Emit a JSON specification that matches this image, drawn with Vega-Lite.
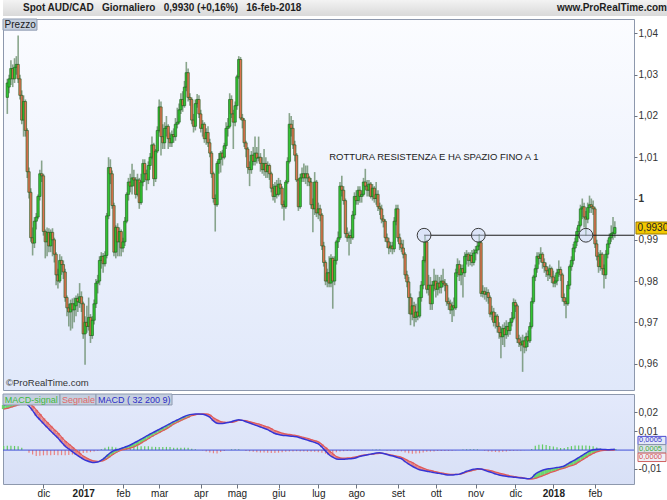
{
"$schema":"https://vega.github.io/schema/vega-lite/v6.json",
"padding":0,
"background":"#ffffff",
"spacing":2,
"config":{"font":"Liberation Sans","view":{"stroke":null}},
"datasets":{
"candles":[
{"i":0,"o":1.0245,"h":1.029,"l":1.0205,"c":1.028},
{"i":1,"o":1.027,"h":1.03,"l":1.0255,"c":1.029},
{"i":2,"o":1.029,"h":1.0335,"l":1.0275,"c":1.0315},
{"i":3,"o":1.0315,"h":1.0325,"l":1.027,"c":1.029},
{"i":4,"o":1.029,"h":1.034,"l":1.028,"c":1.0318},
{"i":5,"o":1.0318,"h":1.0345,"l":1.03,"c":1.0325},
{"i":6,"o":1.0325,"h":1.0395,"l":1.028,"c":1.029},
{"i":7,"o":1.029,"h":1.03,"l":1.024,"c":1.025},
{"i":8,"o":1.025,"h":1.0262,"l":1.018,"c":1.019},
{"i":9,"o":1.019,"h":1.025,"l":1.015,"c":1.0235},
{"i":10,"o":1.0235,"h":1.024,"l":1.015,"c":1.0165},
{"i":11,"o":1.0165,"h":1.017,"l":1.005,"c":1.0065},
{"i":12,"o":1.0065,"h":1.0075,"l":1.0,"c":1.0015},
{"i":13,"o":1.0015,"h":1.0025,"l":0.9895,"c":0.9905},
{"i":14,"o":0.9905,"h":0.993,"l":0.9862,"c":0.9892},
{"i":15,"o":0.9892,"h":0.9955,"l":0.988,"c":0.9945},
{"i":16,"o":0.9945,"h":0.9965,"l":0.9925,"c":0.9955},
{"i":17,"o":0.9955,"h":1.001,"l":0.995,"c":1.0005},
{"i":18,"o":1.0005,"h":1.007,"l":0.9995,"c":1.006},
{"i":19,"o":1.006,"h":1.0092,"l":1.004,"c":1.0055},
{"i":20,"o":1.0055,"h":1.006,"l":0.991,"c":0.992},
{"i":21,"o":0.992,"h":0.9925,"l":0.9855,"c":0.9895},
{"i":22,"o":0.9895,"h":0.993,"l":0.986,"c":0.9918},
{"i":23,"o":0.9918,"h":0.9928,"l":0.987,"c":0.9885},
{"i":24,"o":0.9885,"h":0.9925,"l":0.987,"c":0.9918},
{"i":25,"o":0.9918,"h":0.9928,"l":0.986,"c":0.99},
{"i":26,"o":0.99,"h":0.9905,"l":0.9845,"c":0.9865},
{"i":27,"o":0.9865,"h":0.987,"l":0.979,"c":0.9815},
{"i":28,"o":0.9815,"h":0.983,"l":0.9782,"c":0.98},
{"i":29,"o":0.98,"h":0.9865,"l":0.9795,"c":0.985},
{"i":30,"o":0.985,"h":0.986,"l":0.9815,"c":0.984},
{"i":31,"o":0.984,"h":0.985,"l":0.9805,"c":0.9822},
{"i":32,"o":0.9822,"h":0.983,"l":0.975,"c":0.976},
{"i":33,"o":0.976,"h":0.9765,"l":0.9715,"c":0.9735},
{"i":34,"o":0.9735,"h":0.9745,"l":0.969,"c":0.9725},
{"i":35,"o":0.9725,"h":0.9755,"l":0.968,"c":0.9745},
{"i":36,"o":0.9745,"h":0.9758,"l":0.9685,"c":0.973},
{"i":37,"o":0.973,"h":0.976,"l":0.97,"c":0.9745},
{"i":38,"o":0.974,"h":0.9765,"l":0.9715,"c":0.9758},
{"i":39,"o":0.9758,"h":0.977,"l":0.9725,"c":0.975},
{"i":40,"o":0.9748,"h":0.9795,"l":0.9735,"c":0.9762},
{"i":41,"o":0.9762,"h":0.9775,"l":0.9725,"c":0.9745},
{"i":42,"o":0.9745,"h":0.975,"l":0.966,"c":0.9672},
{"i":43,"o":0.9672,"h":0.9715,"l":0.9597,"c":0.97},
{"i":44,"o":0.97,"h":0.974,"l":0.9675,"c":0.969},
{"i":45,"o":0.969,"h":0.976,"l":0.968,"c":0.9712},
{"i":46,"o":0.9712,"h":0.972,"l":0.965,"c":0.9668},
{"i":47,"o":0.9668,"h":0.9715,"l":0.966,"c":0.9705},
{"i":48,"o":0.9705,"h":0.9755,"l":0.9695,"c":0.9745},
{"i":49,"o":0.9745,"h":0.9805,"l":0.9735,"c":0.9795},
{"i":50,"o":0.9795,"h":0.9815,"l":0.977,"c":0.98},
{"i":51,"o":0.98,"h":0.986,"l":0.979,"c":0.985},
{"i":52,"o":0.985,"h":0.987,"l":0.983,"c":0.986},
{"i":53,"o":0.986,"h":0.9868,"l":0.982,"c":0.9842},
{"i":54,"o":0.9842,"h":0.9872,"l":0.9835,"c":0.9862},
{"i":55,"o":0.9862,"h":0.9965,"l":0.9855,"c":0.9958},
{"i":56,"o":0.9958,"h":1.01,"l":0.995,"c":1.0075},
{"i":57,"o":1.0075,"h":1.0095,"l":1.0035,"c":1.006},
{"i":58,"o":1.006,"h":1.0068,"l":0.9975,"c":0.9983},
{"i":59,"o":0.9983,"h":0.999,"l":0.986,"c":0.987},
{"i":60,"o":0.987,"h":0.9935,"l":0.9855,"c":0.993},
{"i":61,"o":0.993,"h":0.994,"l":0.986,"c":0.9895},
{"i":62,"o":0.9895,"h":0.993,"l":0.986,"c":0.992},
{"i":63,"o":0.992,"h":0.9925,"l":0.986,"c":0.988},
{"i":64,"o":0.988,"h":0.9905,"l":0.987,"c":0.9895},
{"i":65,"o":0.9895,"h":0.9955,"l":0.9885,"c":0.9945},
{"i":66,"o":0.9945,"h":1.0015,"l":0.994,"c":1.001},
{"i":67,"o":1.001,"h":1.005,"l":0.9995,"c":1.004},
{"i":68,"o":1.004,"h":1.006,"l":1.0015,"c":1.003},
{"i":69,"o":1.003,"h":1.0084,"l":1.001,"c":1.005},
{"i":70,"o":1.005,"h":1.007,"l":1.003,"c":1.0045},
{"i":71,"o":1.0045,"h":1.0052,"l":1.0,"c":1.001},
{"i":72,"o":1.001,"h":1.006,"l":1.0005,"c":1.0045},
{"i":73,"o":1.0045,"h":1.005,"l":0.9975,"c":0.999},
{"i":74,"o":0.999,"h":1.006,"l":0.9985,"c":1.004},
{"i":75,"o":1.004,"h":1.0095,"l":1.003,"c":1.0085},
{"i":76,"o":1.0085,"h":1.0095,"l":1.004,"c":1.006},
{"i":77,"o":1.006,"h":1.007,"l":1.002,"c":1.0045},
{"i":78,"o":1.0045,"h":1.009,"l":1.0035,"c":1.008},
{"i":79,"o":1.008,"h":1.011,"l":1.007,"c":1.01},
{"i":80,"o":1.01,"h":1.015,"l":1.0095,"c":1.013},
{"i":81,"o":1.013,"h":1.0135,"l":1.003,"c":1.0048},
{"i":82,"o":1.0048,"h":1.012,"l":1.004,"c":1.0115},
{"i":83,"o":1.0115,"h":1.0175,"l":1.011,"c":1.0165},
{"i":84,"o":1.0165,"h":1.024,"l":1.016,"c":1.0222},
{"i":85,"o":1.0222,"h":1.0235,"l":1.0104,"c":1.015},
{"i":86,"o":1.015,"h":1.018,"l":1.012,"c":1.0135},
{"i":87,"o":1.0135,"h":1.0185,"l":1.012,"c":1.017},
{"i":88,"o":1.017,"h":1.02,"l":1.015,"c":1.0175},
{"i":89,"o":1.0175,"h":1.018,"l":1.012,"c":1.0145},
{"i":90,"o":1.0145,"h":1.016,"l":1.0125,"c":1.0135},
{"i":91,"o":1.0135,"h":1.0165,"l":1.0125,"c":1.0155},
{"i":92,"o":1.0155,"h":1.017,"l":1.0135,"c":1.015},
{"i":93,"o":1.015,"h":1.0195,"l":1.014,"c":1.018},
{"i":94,"o":1.018,"h":1.022,"l":1.017,"c":1.0185},
{"i":95,"o":1.0185,"h":1.023,"l":1.018,"c":1.0215},
{"i":96,"o":1.0215,"h":1.0255,"l":1.0205,"c":1.024},
{"i":97,"o":1.024,"h":1.026,"l":1.021,"c":1.0225},
{"i":98,"o":1.0225,"h":1.0285,"l":1.022,"c":1.027},
{"i":99,"o":1.027,"h":1.0331,"l":1.026,"c":1.0305},
{"i":100,"o":1.0305,"h":1.0315,"l":1.0235,"c":1.0245},
{"i":101,"o":1.0245,"h":1.0255,"l":1.0225,"c":1.024},
{"i":102,"o":1.024,"h":1.0245,"l":1.018,"c":1.019},
{"i":103,"o":1.019,"h":1.0205,"l":1.016,"c":1.0175},
{"i":104,"o":1.0175,"h":1.024,"l":1.0165,"c":1.023},
{"i":105,"o":1.023,"h":1.0253,"l":1.022,"c":1.024},
{"i":106,"o":1.024,"h":1.025,"l":1.0195,"c":1.0205},
{"i":107,"o":1.0205,"h":1.0215,"l":1.016,"c":1.017},
{"i":108,"o":1.017,"h":1.019,"l":1.015,"c":1.018},
{"i":109,"o":1.018,"h":1.0185,"l":1.0135,"c":1.0145},
{"i":110,"o":1.0145,"h":1.017,"l":1.013,"c":1.016},
{"i":111,"o":1.016,"h":1.0175,"l":1.0125,"c":1.0135},
{"i":112,"o":1.0135,"h":1.0145,"l":1.01,"c":1.011},
{"i":113,"o":1.011,"h":1.0115,"l":1.005,"c":1.006},
{"i":114,"o":1.006,"h":1.0065,"l":0.999,"c":1.0},
{"i":115,"o":1.0,"h":1.001,"l":0.992,"c":0.9985},
{"i":116,"o":0.9985,"h":1.009,"l":0.998,"c":1.0085},
{"i":117,"o":1.0085,"h":1.011,"l":1.006,"c":1.0095},
{"i":118,"o":1.0095,"h":1.0115,"l":1.0063,"c":1.011},
{"i":119,"o":1.011,"h":1.0118,"l":1.008,"c":1.01},
{"i":120,"o":1.01,"h":1.0135,"l":1.0095,"c":1.0128},
{"i":121,"o":1.0128,"h":1.0185,"l":1.012,"c":1.017},
{"i":122,"o":1.017,"h":1.0195,"l":1.015,"c":1.0175},
{"i":123,"o":1.0175,"h":1.0255,"l":1.017,"c":1.024},
{"i":124,"o":1.024,"h":1.025,"l":1.0195,"c":1.0205},
{"i":125,"o":1.0205,"h":1.0215,"l":1.012,"c":1.0185},
{"i":126,"o":1.0185,"h":1.0235,"l":1.0175,"c":1.0225},
{"i":127,"o":1.0225,"h":1.03,"l":1.0215,"c":1.0295},
{"i":128,"o":1.0295,"h":1.0345,"l":1.029,"c":1.0337},
{"i":129,"o":1.0337,"h":1.0343,"l":1.019,"c":1.0195},
{"i":130,"o":1.0195,"h":1.0205,"l":1.017,"c":1.019},
{"i":131,"o":1.019,"h":1.0195,"l":1.0125,"c":1.0135},
{"i":132,"o":1.0135,"h":1.014,"l":1.01,"c":1.012},
{"i":133,"o":1.012,"h":1.0125,"l":1.006,"c":1.0075},
{"i":134,"o":1.0075,"h":1.009,"l":1.003,"c":1.007},
{"i":135,"o":1.007,"h":1.0115,"l":1.006,"c":1.0105},
{"i":136,"o":1.0105,"h":1.0125,"l":1.008,"c":1.009},
{"i":137,"o":1.009,"h":1.015,"l":1.008,"c":1.011},
{"i":138,"o":1.011,"h":1.0125,"l":1.0085,"c":1.0098},
{"i":139,"o":1.0098,"h":1.015,"l":1.009,"c":1.01},
{"i":140,"o":1.01,"h":1.011,"l":1.0065,"c":1.0085},
{"i":141,"o":1.0085,"h":1.01,"l":1.006,"c":1.007},
{"i":142,"o":1.007,"h":1.012,"l":1.0055,"c":1.0085},
{"i":143,"o":1.0085,"h":1.01,"l":1.005,"c":1.0065},
{"i":144,"o":1.0065,"h":1.009,"l":1.005,"c":1.008},
{"i":145,"o":1.008,"h":1.0085,"l":1.0045,"c":1.006},
{"i":146,"o":1.006,"h":1.0065,"l":1.0015,"c":1.0025},
{"i":147,"o":1.0025,"h":1.0035,"l":0.9995,"c":1.0005},
{"i":148,"o":1.0005,"h":1.004,"l":0.999,"c":1.003},
{"i":149,"o":1.003,"h":1.0045,"l":1.0,"c":1.001},
{"i":150,"o":1.001,"h":1.005,"l":1.0005,"c":1.0035},
{"i":151,"o":1.0035,"h":1.0045,"l":1.001,"c":1.0025},
{"i":152,"o":1.0025,"h":1.003,"l":0.9975,"c":0.9985},
{"i":153,"o":0.9985,"h":0.9995,"l":0.9947,"c":0.998},
{"i":154,"o":0.998,"h":1.0045,"l":0.9975,"c":1.004},
{"i":155,"o":1.004,"h":1.01,"l":1.0035,"c":1.009},
{"i":156,"o":1.009,"h":1.0207,"l":1.0085,"c":1.018},
{"i":157,"o":1.018,"h":1.02,"l":1.015,"c":1.017},
{"i":158,"o":1.017,"h":1.019,"l":1.012,"c":1.013},
{"i":159,"o":1.013,"h":1.014,"l":1.009,"c":1.0105},
{"i":160,"o":1.0105,"h":1.011,"l":1.004,"c":1.0045},
{"i":161,"o":1.0045,"h":1.005,"l":0.997,"c":0.998},
{"i":162,"o":0.998,"h":1.006,"l":0.9975,"c":1.005},
{"i":163,"o":1.005,"h":1.0075,"l":1.004,"c":1.006},
{"i":164,"o":1.006,"h":1.0085,"l":1.004,"c":1.005},
{"i":165,"o":1.005,"h":1.008,"l":1.0035,"c":1.006},
{"i":166,"o":1.006,"h":1.008,"l":1.003,"c":1.005},
{"i":167,"o":1.005,"h":1.0055,"l":1.003,"c":1.004},
{"i":168,"o":1.004,"h":1.005,"l":0.9975,"c":0.9985},
{"i":169,"o":0.9985,"h":1.0,"l":0.9918,"c":0.9975},
{"i":170,"o":0.9975,"h":1.0064,"l":0.996,"c":1.004},
{"i":171,"o":1.004,"h":1.0045,"l":0.9955,"c":0.9965},
{"i":172,"o":0.9965,"h":0.999,"l":0.995,"c":0.9975},
{"i":173,"o":0.9975,"h":0.9985,"l":0.9945,"c":0.996},
{"i":174,"o":0.996,"h":0.9965,"l":0.9875,"c":0.9885},
{"i":175,"o":0.9885,"h":0.9895,"l":0.9835,"c":0.9845},
{"i":176,"o":0.9845,"h":0.985,"l":0.979,"c":0.98},
{"i":177,"o":0.98,"h":0.983,"l":0.9785,"c":0.982},
{"i":178,"o":0.982,"h":0.986,"l":0.9785,"c":0.9795},
{"i":179,"o":0.9795,"h":0.9865,"l":0.9785,"c":0.9855},
{"i":180,"o":0.9855,"h":0.986,"l":0.9733,"c":0.98},
{"i":181,"o":0.98,"h":0.986,"l":0.979,"c":0.985},
{"i":182,"o":0.985,"h":0.99,"l":0.984,"c":0.9895},
{"i":183,"o":0.9895,"h":0.992,"l":0.988,"c":0.9905},
{"i":184,"o":0.9905,"h":1.004,"l":0.99,"c":1.003},
{"i":185,"o":1.003,"h":1.0055,"l":1.0005,"c":1.002},
{"i":186,"o":1.002,"h":1.003,"l":0.9985,"c":0.9995},
{"i":187,"o":0.9995,"h":1.0,"l":0.9905,"c":0.9915},
{"i":188,"o":0.9915,"h":0.993,"l":0.9895,"c":0.9905},
{"i":189,"o":0.9905,"h":0.992,"l":0.9862,"c":0.991},
{"i":190,"o":0.991,"h":0.9925,"l":0.989,"c":0.9905},
{"i":191,"o":0.9905,"h":0.997,"l":0.99,"c":0.996},
{"i":192,"o":0.996,"h":1.0015,"l":0.995,"c":1.0005},
{"i":193,"o":1.0005,"h":1.002,"l":0.9985,"c":0.9995},
{"i":194,"o":0.9995,"h":1.003,"l":0.9985,"c":1.002},
{"i":195,"o":1.002,"h":1.003,"l":0.999,"c":1.0005},
{"i":196,"o":1.0005,"h":1.002,"l":0.999,"c":1.001},
{"i":197,"o":1.001,"h":1.005,"l":1.0005,"c":1.004},
{"i":198,"o":1.004,"h":1.0072,"l":1.002,"c":1.003},
{"i":199,"o":1.003,"h":1.0045,"l":1.0005,"c":1.002},
{"i":200,"o":1.002,"h":1.0045,"l":1.0005,"c":1.0035},
{"i":201,"o":1.0035,"h":1.004,"l":1.0,"c":1.0005},
{"i":202,"o":1.0005,"h":1.0035,"l":0.9995,"c":1.0025},
{"i":203,"o":1.0025,"h":1.003,"l":0.999,"c":1.0},
{"i":204,"o":1.0,"h":1.004,"l":0.9985,"c":1.001},
{"i":205,"o":1.001,"h":1.002,"l":0.997,"c":0.998},
{"i":206,"o":0.998,"h":0.999,"l":0.996,"c":0.9975},
{"i":207,"o":0.9975,"h":0.9985,"l":0.994,"c":0.995},
{"i":208,"o":0.995,"h":0.996,"l":0.993,"c":0.9945},
{"i":209,"o":0.9945,"h":0.995,"l":0.9895,"c":0.9905},
{"i":210,"o":0.9905,"h":0.9915,"l":0.988,"c":0.9895},
{"i":211,"o":0.9895,"h":0.9905,"l":0.9865,"c":0.988},
{"i":212,"o":0.988,"h":0.9895,"l":0.987,"c":0.9885},
{"i":213,"o":0.9885,"h":0.9895,"l":0.9865,"c":0.9878},
{"i":214,"o":0.9878,"h":0.9955,"l":0.987,"c":0.9945},
{"i":215,"o":0.9945,"h":0.9985,"l":0.9935,"c":0.9975},
{"i":216,"o":0.9975,"h":0.9985,"l":0.9895,"c":0.9905},
{"i":217,"o":0.9905,"h":0.9915,"l":0.9875,"c":0.989},
{"i":218,"o":0.989,"h":0.99,"l":0.987,"c":0.988},
{"i":219,"o":0.988,"h":0.99,"l":0.9855,"c":0.9865},
{"i":220,"o":0.9865,"h":0.987,"l":0.9805,"c":0.9815},
{"i":221,"o":0.9815,"h":0.9825,"l":0.9785,"c":0.9798},
{"i":222,"o":0.9798,"h":0.981,"l":0.972,"c":0.976},
{"i":223,"o":0.976,"h":0.977,"l":0.9693,"c":0.972},
{"i":224,"o":0.972,"h":0.976,"l":0.9705,"c":0.974},
{"i":225,"o":0.974,"h":0.975,"l":0.969,"c":0.9712},
{"i":226,"o":0.9712,"h":0.9745,"l":0.97,"c":0.9725},
{"i":227,"o":0.9725,"h":0.976,"l":0.9705,"c":0.9715},
{"i":228,"o":0.9715,"h":0.9775,"l":0.971,"c":0.976},
{"i":229,"o":0.976,"h":0.98,"l":0.975,"c":0.979},
{"i":230,"o":0.979,"h":0.986,"l":0.978,"c":0.985},
{"i":231,"o":0.985,"h":0.991,"l":0.9845,"c":0.9895},
{"i":232,"o":0.9895,"h":0.99,"l":0.977,"c":0.978},
{"i":233,"o":0.978,"h":0.9815,"l":0.9765,"c":0.979},
{"i":234,"o":0.979,"h":0.981,"l":0.973,"c":0.9745},
{"i":235,"o":0.9745,"h":0.98,"l":0.973,"c":0.979},
{"i":236,"o":0.979,"h":0.983,"l":0.9775,"c":0.98},
{"i":237,"o":0.98,"h":0.9815,"l":0.976,"c":0.978},
{"i":238,"o":0.978,"h":0.9815,"l":0.9765,"c":0.9795},
{"i":239,"o":0.9795,"h":0.981,"l":0.977,"c":0.9785},
{"i":240,"o":0.9785,"h":0.9815,"l":0.977,"c":0.98},
{"i":241,"o":0.98,"h":0.983,"l":0.9785,"c":0.9795},
{"i":242,"o":0.9795,"h":0.9805,"l":0.9775,"c":0.979},
{"i":243,"o":0.979,"h":0.9795,"l":0.974,"c":0.975},
{"i":244,"o":0.975,"h":0.976,"l":0.973,"c":0.9745},
{"i":245,"o":0.9745,"h":0.9755,"l":0.972,"c":0.973},
{"i":246,"o":0.973,"h":0.975,"l":0.9701,"c":0.974},
{"i":247,"o":0.974,"h":0.976,"l":0.9715,"c":0.9735},
{"i":248,"o":0.9735,"h":0.983,"l":0.973,"c":0.982},
{"i":249,"o":0.982,"h":0.9855,"l":0.981,"c":0.984},
{"i":250,"o":0.984,"h":0.985,"l":0.98,"c":0.9815},
{"i":251,"o":0.9815,"h":0.984,"l":0.979,"c":0.983},
{"i":252,"o":0.983,"h":0.984,"l":0.976,"c":0.982},
{"i":253,"o":0.982,"h":0.987,"l":0.981,"c":0.986},
{"i":254,"o":0.986,"h":0.9875,"l":0.984,"c":0.9865},
{"i":255,"o":0.9865,"h":0.987,"l":0.9835,"c":0.985},
{"i":256,"o":0.985,"h":0.987,"l":0.9838,"c":0.9862},
{"i":257,"o":0.9862,"h":0.9875,"l":0.9835,"c":0.9845},
{"i":258,"o":0.9845,"h":0.9878,"l":0.9838,"c":0.9868},
{"i":259,"o":0.9868,"h":0.9885,"l":0.985,"c":0.9875},
{"i":260,"o":0.9875,"h":0.9895,"l":0.9865,"c":0.9885},
{"i":261,"o":0.9885,"h":0.9914,"l":0.9875,"c":0.9895},
{"i":262,"o":0.9893,"h":0.9898,"l":0.9762,"c":0.977},
{"i":263,"o":0.977,"h":0.979,"l":0.976,"c":0.9775},
{"i":264,"o":0.9775,"h":0.9785,"l":0.9755,"c":0.9768},
{"i":265,"o":0.9768,"h":0.9785,"l":0.975,"c":0.9772},
{"i":266,"o":0.9772,"h":0.978,"l":0.9745,"c":0.976},
{"i":267,"o":0.976,"h":0.9765,"l":0.9712,"c":0.972},
{"i":268,"o":0.972,"h":0.974,"l":0.9705,"c":0.9725},
{"i":269,"o":0.9725,"h":0.9735,"l":0.969,"c":0.97},
{"i":270,"o":0.97,"h":0.9725,"l":0.9685,"c":0.9715},
{"i":271,"o":0.9715,"h":0.972,"l":0.9675,"c":0.969},
{"i":272,"o":0.969,"h":0.97,"l":0.966,"c":0.9675},
{"i":273,"o":0.9675,"h":0.969,"l":0.9613,"c":0.9665},
{"i":274,"o":0.9665,"h":0.9695,"l":0.9645,"c":0.9685},
{"i":275,"o":0.9685,"h":0.97,"l":0.964,"c":0.967},
{"i":276,"o":0.967,"h":0.9705,"l":0.966,"c":0.969},
{"i":277,"o":0.969,"h":0.97,"l":0.9665,"c":0.968},
{"i":278,"o":0.968,"h":0.971,"l":0.967,"c":0.97},
{"i":279,"o":0.97,"h":0.9725,"l":0.969,"c":0.971},
{"i":280,"o":0.971,"h":0.9758,"l":0.9705,"c":0.9748},
{"i":281,"o":0.9748,"h":0.9755,"l":0.9725,"c":0.974},
{"i":282,"o":0.974,"h":0.9745,"l":0.965,"c":0.966},
{"i":283,"o":0.966,"h":0.967,"l":0.964,"c":0.965},
{"i":284,"o":0.965,"h":0.9665,"l":0.963,"c":0.9645},
{"i":285,"o":0.9645,"h":0.967,"l":0.958,"c":0.9655},
{"i":286,"o":0.9655,"h":0.9665,"l":0.9625,"c":0.964},
{"i":287,"o":0.964,"h":0.9675,"l":0.963,"c":0.9665},
{"i":288,"o":0.9665,"h":0.968,"l":0.964,"c":0.9655},
{"i":289,"o":0.9655,"h":0.97,"l":0.965,"c":0.969},
{"i":290,"o":0.969,"h":0.976,"l":0.9685,"c":0.975},
{"i":291,"o":0.975,"h":0.9815,"l":0.9745,"c":0.981},
{"i":292,"o":0.981,"h":0.984,"l":0.98,"c":0.983},
{"i":293,"o":0.983,"h":0.987,"l":0.982,"c":0.986},
{"i":294,"o":0.986,"h":0.987,"l":0.984,"c":0.9855},
{"i":295,"o":0.9855,"h":0.9882,"l":0.9845,"c":0.9865},
{"i":296,"o":0.9865,"h":0.987,"l":0.983,"c":0.9845},
{"i":297,"o":0.9845,"h":0.9855,"l":0.982,"c":0.9835},
{"i":298,"o":0.9835,"h":0.9845,"l":0.981,"c":0.9825},
{"i":299,"o":0.9825,"h":0.9835,"l":0.98,"c":0.9815},
{"i":300,"o":0.9815,"h":0.984,"l":0.9805,"c":0.983},
{"i":301,"o":0.983,"h":0.9835,"l":0.9795,"c":0.981},
{"i":302,"o":0.981,"h":0.9825,"l":0.9785,"c":0.9795},
{"i":303,"o":0.9795,"h":0.9815,"l":0.9785,"c":0.98},
{"i":304,"o":0.98,"h":0.983,"l":0.979,"c":0.982},
{"i":305,"o":0.982,"h":0.985,"l":0.981,"c":0.9828},
{"i":306,"o":0.9828,"h":0.9835,"l":0.98,"c":0.9815},
{"i":307,"o":0.9815,"h":0.982,"l":0.975,"c":0.976},
{"i":308,"o":0.976,"h":0.977,"l":0.974,"c":0.975},
{"i":309,"o":0.975,"h":0.976,"l":0.971,"c":0.9745},
{"i":310,"o":0.9745,"h":0.98,"l":0.974,"c":0.979},
{"i":311,"o":0.979,"h":0.984,"l":0.978,"c":0.9835},
{"i":312,"o":0.9835,"h":0.986,"l":0.9825,"c":0.985},
{"i":313,"o":0.985,"h":0.989,"l":0.984,"c":0.988},
{"i":314,"o":0.988,"h":0.9905,"l":0.987,"c":0.9895},
{"i":315,"o":0.9895,"h":0.993,"l":0.9885,"c":0.992},
{"i":316,"o":0.992,"h":0.9945,"l":0.9905,"c":0.9935},
{"i":317,"o":0.9935,"h":0.9985,"l":0.993,"c":0.9975},
{"i":318,"o":0.9975,"h":1.0,"l":0.995,"c":0.998},
{"i":319,"o":0.998,"h":0.999,"l":0.993,"c":0.9955},
{"i":320,"o":0.9955,"h":0.997,"l":0.991,"c":0.995},
{"i":321,"o":0.995,"h":0.999,"l":0.994,"c":0.9978},
{"i":322,"o":0.9978,"h":1.0007,"l":0.9965,"c":0.9985},
{"i":323,"o":0.9985,"h":1.0,"l":0.9965,"c":0.998},
{"i":324,"o":0.998,"h":0.9995,"l":0.996,"c":0.9975},
{"i":325,"o":0.9975,"h":0.998,"l":0.988,"c":0.989},
{"i":326,"o":0.989,"h":0.99,"l":0.985,"c":0.986},
{"i":327,"o":0.986,"h":0.987,"l":0.982,"c":0.9835},
{"i":328,"o":0.9835,"h":0.9875,"l":0.9825,"c":0.9865},
{"i":329,"o":0.9865,"h":0.987,"l":0.9815,"c":0.983},
{"i":330,"o":0.983,"h":0.984,"l":0.9782,"c":0.9815},
{"i":331,"o":0.9815,"h":0.9875,"l":0.9805,"c":0.9865},
{"i":332,"o":0.9865,"h":0.99,"l":0.9855,"c":0.989},
{"i":333,"o":0.989,"h":0.9915,"l":0.988,"c":0.9905},
{"i":334,"o":0.9905,"h":0.9935,"l":0.9895,"c":0.9915},
{"i":335,"o":0.9915,"h":0.9955,"l":0.99,"c":0.9918},
{"i":336,"o":0.9915,"h":0.9945,"l":0.9905,"c":0.993}
],
"macd":[
{"i":-2,"m":0.024,"s":0.0218,"d":0.0022},
{"i":0,"m":0.0245,"s":0.0222,"d":0.0023},
{"i":2,"m":0.0251,"s":0.0228,"d":0.0023},
{"i":4,"m":0.0256,"s":0.0234,"d":0.0022},
{"i":6,"m":0.026,"s":0.024,"d":0.002},
{"i":8,"m":0.0258,"s":0.0246,"d":0.0012},
{"i":10,"m":0.025,"s":0.025,"d":0.0},
{"i":12,"m":0.0235,"s":0.0249,"d":-0.0014},
{"i":14,"m":0.021,"s":0.0234,"d":-0.0024},
{"i":16,"m":0.0183,"s":0.0214,"d":-0.0031},
{"i":18,"m":0.0162,"s":0.0192,"d":-0.003},
{"i":20,"m":0.0141,"s":0.0169,"d":-0.0028},
{"i":22,"m":0.0121,"s":0.0148,"d":-0.0027},
{"i":24,"m":0.0102,"s":0.0129,"d":-0.0027},
{"i":26,"m":0.0083,"s":0.0109,"d":-0.0026},
{"i":28,"m":0.0064,"s":0.0091,"d":-0.0027},
{"i":30,"m":0.0042,"s":0.0069,"d":-0.0027},
{"i":32,"m":0.0021,"s":0.0048,"d":-0.0027},
{"i":34,"m":0.0006,"s":0.0032,"d":-0.0026},
{"i":36,"m":-0.0008,"s":0.0016,"d":-0.0024},
{"i":38,"m":-0.0023,"s":0.0,"d":-0.0023},
{"i":40,"m":-0.0036,"s":-0.0016,"d":-0.002},
{"i":42,"m":-0.0048,"s":-0.0032,"d":-0.0016},
{"i":44,"m":-0.0057,"s":-0.0043,"d":-0.0014},
{"i":46,"m":-0.0063,"s":-0.0052,"d":-0.0011},
{"i":48,"m":-0.0066,"s":-0.0058,"d":-0.0008},
{"i":50,"m":-0.0064,"s":-0.006,"d":-0.0004},
{"i":52,"m":-0.0054,"s":-0.0059,"d":0.0005},
{"i":54,"m":-0.004,"s":-0.0052,"d":0.0012},
{"i":56,"m":-0.0022,"s":-0.004,"d":0.0018},
{"i":58,"m":-0.0008,"s":-0.0026,"d":0.0018},
{"i":60,"m":0.0,"s":-0.0014,"d":0.0014},
{"i":62,"m":0.0005,"s":-0.0005,"d":0.001},
{"i":64,"m":0.0012,"s":0.0002,"d":0.001},
{"i":66,"m":0.0019,"s":0.0006,"d":0.0013},
{"i":68,"m":0.0027,"s":0.0011,"d":0.0016},
{"i":70,"m":0.0037,"s":0.0017,"d":0.002},
{"i":72,"m":0.0047,"s":0.0026,"d":0.0021},
{"i":74,"m":0.0058,"s":0.0037,"d":0.0021},
{"i":76,"m":0.0069,"s":0.0048,"d":0.0021},
{"i":78,"m":0.008,"s":0.006,"d":0.002},
{"i":80,"m":0.009,"s":0.0072,"d":0.0018},
{"i":82,"m":0.01,"s":0.0083,"d":0.0017},
{"i":84,"m":0.011,"s":0.0093,"d":0.0017},
{"i":86,"m":0.012,"s":0.0103,"d":0.0017},
{"i":88,"m":0.013,"s":0.0113,"d":0.0017},
{"i":90,"m":0.0141,"s":0.0125,"d":0.0016},
{"i":92,"m":0.0151,"s":0.0138,"d":0.0013},
{"i":94,"m":0.016,"s":0.0148,"d":0.0012},
{"i":96,"m":0.017,"s":0.0157,"d":0.0013},
{"i":98,"m":0.0179,"s":0.0166,"d":0.0013},
{"i":100,"m":0.0186,"s":0.0174,"d":0.0012},
{"i":102,"m":0.019,"s":0.0183,"d":0.0007},
{"i":104,"m":0.0192,"s":0.0188,"d":0.0004},
{"i":106,"m":0.0192,"s":0.0191,"d":0.0001},
{"i":108,"m":0.0191,"s":0.0193,"d":-0.0002},
{"i":110,"m":0.0185,"s":0.0192,"d":-0.0007},
{"i":112,"m":0.0175,"s":0.0188,"d":-0.0013},
{"i":114,"m":0.0155,"s":0.0172,"d":-0.0017},
{"i":116,"m":0.0143,"s":0.0161,"d":-0.0018},
{"i":118,"m":0.0141,"s":0.0151,"d":-0.001},
{"i":120,"m":0.0143,"s":0.0148,"d":-0.0005},
{"i":122,"m":0.0147,"s":0.0147,"d":0.0},
{"i":124,"m":0.0151,"s":0.0147,"d":0.0004},
{"i":126,"m":0.0157,"s":0.0152,"d":0.0005},
{"i":128,"m":0.0162,"s":0.0158,"d":0.0004},
{"i":130,"m":0.0158,"s":0.0158,"d":0.0},
{"i":132,"m":0.0151,"s":0.0156,"d":-0.0005},
{"i":134,"m":0.0144,"s":0.0151,"d":-0.0007},
{"i":136,"m":0.0137,"s":0.0146,"d":-0.0009},
{"i":138,"m":0.013,"s":0.0141,"d":-0.0011},
{"i":140,"m":0.0123,"s":0.0136,"d":-0.0013},
{"i":142,"m":0.0116,"s":0.0129,"d":-0.0013},
{"i":144,"m":0.0109,"s":0.0123,"d":-0.0014},
{"i":146,"m":0.0098,"s":0.0114,"d":-0.0016},
{"i":148,"m":0.0088,"s":0.0104,"d":-0.0016},
{"i":150,"m":0.0083,"s":0.0097,"d":-0.0014},
{"i":152,"m":0.0079,"s":0.009,"d":-0.0011},
{"i":154,"m":0.0077,"s":0.0086,"d":-0.0009},
{"i":156,"m":0.0075,"s":0.0083,"d":-0.0008},
{"i":158,"m":0.0073,"s":0.008,"d":-0.0007},
{"i":160,"m":0.0071,"s":0.0077,"d":-0.0006},
{"i":162,"m":0.0065,"s":0.0072,"d":-0.0007},
{"i":164,"m":0.0059,"s":0.0067,"d":-0.0008},
{"i":166,"m":0.0053,"s":0.0062,"d":-0.0009},
{"i":168,"m":0.0047,"s":0.0056,"d":-0.0009},
{"i":170,"m":0.0041,"s":0.005,"d":-0.0009},
{"i":172,"m":0.0033,"s":0.0044,"d":-0.0011},
{"i":174,"m":0.0016,"s":0.003,"d":-0.0014},
{"i":176,"m":-0.0005,"s":0.0014,"d":-0.0019},
{"i":178,"m":-0.0025,"s":-0.0003,"d":-0.0022},
{"i":180,"m":-0.0038,"s":-0.002,"d":-0.0018},
{"i":182,"m":-0.0047,"s":-0.0035,"d":-0.0012},
{"i":184,"m":-0.0049,"s":-0.0041,"d":-0.0008},
{"i":186,"m":-0.0049,"s":-0.0043,"d":-0.0006},
{"i":188,"m":-0.0047,"s":-0.0042,"d":-0.0005},
{"i":190,"m":-0.0046,"s":-0.0041,"d":-0.0005},
{"i":192,"m":-0.0043,"s":-0.0038,"d":-0.0005},
{"i":194,"m":-0.0037,"s":-0.0033,"d":-0.0004},
{"i":196,"m":-0.0031,"s":-0.0028,"d":-0.0003},
{"i":198,"m":-0.0027,"s":-0.0025,"d":-0.0002},
{"i":200,"m":-0.0023,"s":-0.0023,"d":0.0},
{"i":202,"m":-0.002,"s":-0.0022,"d":0.0002},
{"i":204,"m":-0.0016,"s":-0.0019,"d":0.0003},
{"i":206,"m":-0.0014,"s":-0.0017,"d":0.0003},
{"i":208,"m":-0.0018,"s":-0.0018,"d":0.0},
{"i":210,"m":-0.0024,"s":-0.0021,"d":-0.0003},
{"i":212,"m":-0.0029,"s":-0.0025,"d":-0.0004},
{"i":214,"m":-0.0034,"s":-0.0029,"d":-0.0005},
{"i":216,"m":-0.004,"s":-0.0034,"d":-0.0006},
{"i":218,"m":-0.0046,"s":-0.0039,"d":-0.0007},
{"i":220,"m":-0.0061,"s":-0.0048,"d":-0.0013},
{"i":222,"m":-0.0075,"s":-0.0058,"d":-0.0017},
{"i":224,"m":-0.0086,"s":-0.0066,"d":-0.002},
{"i":226,"m":-0.0096,"s":-0.0078,"d":-0.0018},
{"i":228,"m":-0.0105,"s":-0.0088,"d":-0.0017},
{"i":230,"m":-0.0109,"s":-0.0096,"d":-0.0013},
{"i":232,"m":-0.0113,"s":-0.0104,"d":-0.0009},
{"i":234,"m":-0.0116,"s":-0.0108,"d":-0.0008},
{"i":236,"m":-0.012,"s":-0.0113,"d":-0.0007},
{"i":238,"m":-0.0123,"s":-0.0118,"d":-0.0005},
{"i":240,"m":-0.0126,"s":-0.0121,"d":-0.0005},
{"i":242,"m":-0.013,"s":-0.0125,"d":-0.0005},
{"i":244,"m":-0.0133,"s":-0.0128,"d":-0.0005},
{"i":246,"m":-0.0132,"s":-0.0129,"d":-0.0003},
{"i":248,"m":-0.013,"s":-0.0129,"d":-0.0001},
{"i":250,"m":-0.0128,"s":-0.0129,"d":0.0001},
{"i":252,"m":-0.0121,"s":-0.0124,"d":0.0003},
{"i":254,"m":-0.0113,"s":-0.0117,"d":0.0004},
{"i":256,"m":-0.0107,"s":-0.0112,"d":0.0005},
{"i":258,"m":-0.0102,"s":-0.0107,"d":0.0005},
{"i":260,"m":-0.0099,"s":-0.0103,"d":0.0004},
{"i":262,"m":-0.0101,"s":-0.0102,"d":0.0001},
{"i":264,"m":-0.0107,"s":-0.0104,"d":-0.0003},
{"i":266,"m":-0.0114,"s":-0.0107,"d":-0.0007},
{"i":268,"m":-0.012,"s":-0.0111,"d":-0.0009},
{"i":270,"m":-0.0127,"s":-0.0117,"d":-0.001},
{"i":272,"m":-0.0133,"s":-0.0122,"d":-0.0011},
{"i":274,"m":-0.0136,"s":-0.0127,"d":-0.0009},
{"i":276,"m":-0.0139,"s":-0.0132,"d":-0.0007},
{"i":278,"m":-0.0142,"s":-0.0137,"d":-0.0005},
{"i":280,"m":-0.0144,"s":-0.014,"d":-0.0004},
{"i":282,"m":-0.0146,"s":-0.0144,"d":-0.0002},
{"i":284,"m":-0.0148,"s":-0.0146,"d":-0.0002},
{"i":286,"m":-0.015,"s":-0.0149,"d":-0.0001},
{"i":288,"m":-0.0153,"s":-0.0153,"d":0.0},
{"i":290,"m":-0.0148,"s":-0.0154,"d":0.0006},
{"i":292,"m":-0.0128,"s":-0.0151,"d":0.0023},
{"i":294,"m":-0.0116,"s":-0.0144,"d":0.0028},
{"i":296,"m":-0.0107,"s":-0.0137,"d":0.003},
{"i":298,"m":-0.0102,"s":-0.0129,"d":0.0027},
{"i":300,"m":-0.0099,"s":-0.0121,"d":0.0022},
{"i":302,"m":-0.0096,"s":-0.0115,"d":0.0019},
{"i":304,"m":-0.0093,"s":-0.0108,"d":0.0015},
{"i":306,"m":-0.009,"s":-0.0101,"d":0.0011},
{"i":308,"m":-0.0085,"s":-0.0096,"d":0.0011},
{"i":310,"m":-0.0073,"s":-0.0089,"d":0.0016},
{"i":312,"m":-0.0062,"s":-0.0083,"d":0.0021},
{"i":314,"m":-0.0052,"s":-0.0076,"d":0.0024},
{"i":316,"m":-0.004,"s":-0.0064,"d":0.0024},
{"i":318,"m":-0.0028,"s":-0.0052,"d":0.0024},
{"i":320,"m":-0.0016,"s":-0.004,"d":0.0024},
{"i":322,"m":-0.0005,"s":-0.0028,"d":0.0023},
{"i":324,"m":0.0002,"s":-0.0018,"d":0.002},
{"i":326,"m":0.0004,"s":-0.001,"d":0.0014},
{"i":328,"m":0.0004,"s":-0.0004,"d":0.0008},
{"i":330,"m":0.0003,"s":-0.0001,"d":0.0004},
{"i":332,"m":0.0002,"s":0.0,"d":0.0002},
{"i":334,"m":0.0003,"s":0.0,"d":0.0003},
{"i":336,"m":0.0005,"s":0.0,"d":0.0005}
],
"circles":[{"i":230.5,"p":0.9911},{"i":260.5,"p":0.9911},{"i":320,"p":0.9911}]
},
"vconcat":[
{
"width":667,"height":16,
"view":{"fill":{"gradient":"linear","x1":0,"y1":0,"x2":0,"y2":1,"stops":[{"offset":0,"color":"#f3f3f3"},{"offset":1,"color":"#d9d9d9"}]},"stroke":null},
"data":{"values":[{"k":"L","t":"Spot AUD/CAD\u00a0\u00a0\u00a0Giornaliero\u00a0\u00a0\u00a00,9930 (+0,16%)\u00a0\u00a0\u00a016-feb-2018"},{"k":"R","t":"www.ProRealTime.com"}]},
"encoding":{"x":{"field":"k","type":"nominal","scale":{"type":"point","domain":["L","R"],"padding":0},"axis":null},"text":{"field":"t","type":"nominal"}},
"layer":[
{"transform":[{"filter":"datum.k=='L'"}],"mark":{"type":"text","align":"left","baseline":"middle","dx":20,"fontSize":10,"fontWeight":"bold","color":"#1e1e1e"}},
{"transform":[{"filter":"datum.k=='R'"}],"mark":{"type":"text","align":"right","baseline":"middle","dx":-3,"fontSize":10,"fontWeight":"bold","color":"#1e1e1e"}}
]
},
{
"width":631,"height":371,
"view":{"fill":{"gradient":"linear","x1":0,"y1":0,"x2":0,"y2":1,"stops":[{"offset":0,"color":"#fbfcff"},{"offset":1,"color":"#e0e8fa"}]},"stroke":"#8d98ad"},
"data":{"name":"candles"},
"layer":[
{"mark":{"type":"rule","color":"#5b825b","strokeWidth":1.6,"opacity":0.7},
 "encoding":{"x":{"field":"i","type":"quantitative","scale":{"domain":[-2.38,346.6],"nice":false,"zero":false,"padding":0},"axis":null},
 "y":{"field":"l","type":"quantitative","scale":{"domain":[0.9536,1.0435],"nice":false,"zero":false},
  "axis":{"orient":"right","values":[0.96,0.97,0.98,0.99,1,1.01,1.02,1.03,1.04],"labelExpr":"datum.value==1?'1':replace(format(datum.value,'.2f'),'.',',')","tickSize":3,"tickColor":"#6a7280","domain":false,"grid":false,"labelFontSize":10,"labelColor":"#333333","labelPadding":1,"title":null,"labelOverlap":false,"labelFontWeight":{"condition":{"test":"datum.value==1","value":"bold"},"value":"normal"}}},
 "y2":{"field":"h"}}},
{"mark":{"type":"bar","width":2.4,"stroke":"#1d5a1d","strokeWidth":0.6},
 "encoding":{"x":{"field":"i","type":"quantitative","axis":null},"y":{"field":"o","type":"quantitative"},"y2":{"field":"c"},
 "color":{"condition":{"test":"datum.c>=datum.o","value":"#33c433"},"value":"#dd7250"}}},
{"data":{"values":[{}]},"mark":{"type":"rule","color":"#1a1a1a","strokeWidth":1},
 "encoding":{"x":{"datum":230.5,"axis":null},"x2":{"datum":346.6},"y":{"datum":0.9911}}},
{"data":{"name":"circles"},"mark":{"type":"point","shape":"circle","size":190,"filled":true,"fill":"#c9d7f3","fillOpacity":0.45,"stroke":"#3a3a3a","strokeWidth":1},
 "encoding":{"x":{"field":"i","type":"quantitative","axis":null},"y":{"field":"p","type":"quantitative"}}},
{"data":{"values":[{"t":"ROTTURA RESISTENZA E HA SPAZIO FINO A 1"}]},"mark":{"type":"text","align":"left","baseline":"middle","fontSize":9.5,"color":"#1a1a1a"},
 "encoding":{"x":{"datum":178,"axis":null},"y":{"datum":1.0101},"text":{"field":"t"}}},
{"data":{"values":[{"t":"\u00a9ProRealTime.com"}]},"mark":{"type":"text","align":"left","baseline":"middle","fontSize":9.5,"color":"#333333"},
 "encoding":{"x":{"datum":-0.7,"axis":null},"y":{"datum":0.9553},"text":{"field":"t"}}},
{"data":{"values":[{}]},"mark":{"type":"rect","fill":"#c6d0de","stroke":"#8e9bb1","strokeWidth":1},
 "encoding":{"x":{"datum":-2.38,"axis":null},"x2":{"datum":16.4},"y":{"datum":1.0435},"y2":{"datum":1.0408}}},
{"data":{"values":[{"t":"Prezzo"}]},"mark":{"type":"text","align":"left","baseline":"middle","fontSize":10,"color":"#1a1a1a"},
 "encoding":{"x":{"datum":-1.5,"axis":null},"y":{"datum":1.0421},"text":{"field":"t"}}},
{"data":{"values":[{}]},"mark":{"type":"rect","fill":"#f2c800","stroke":"#9a7a00","strokeWidth":1},
 "encoding":{"x":{"datum":347.7,"axis":null},"x2":{"datum":365.4},"y":{"datum":0.9943},"y2":{"datum":0.9914}}},
{"data":{"values":[{"t":"0,9930"}]},"mark":{"type":"text","align":"left","baseline":"middle","fontSize":10,"color":"#222222"},
 "encoding":{"x":{"datum":348.6,"axis":null},"y":{"datum":0.99285},"text":{"field":"t"}}}
]
},
{
"width":631,"height":90,
"view":{"fill":{"gradient":"linear","x1":0,"y1":0,"x2":0,"y2":1,"stops":[{"offset":0,"color":"#e3e9fb"},{"offset":1,"color":"#d8e0f6"}]},"stroke":"#8d98ad"},
"data":{"name":"macd"},
"layer":[
{"mark":{"type":"bar","width":3.7,"opacity":0.9},
 "encoding":{"x":{"field":"i","type":"quantitative","scale":{"domain":[-2.38,346.6],"nice":false,"zero":false,"padding":0},
  "axis":{"orient":"bottom","values":[20,42,64,84,107,127,150,172,193,216,237,259,281,302,325],"labelExpr":"datum.value==20?'dic':datum.value==42?'2017':datum.value==64?'feb':datum.value==84?'mar':datum.value==107?'apr':datum.value==127?'mag':datum.value==150?'giu':datum.value==172?'lug':datum.value==193?'ago':datum.value==216?'set':datum.value==237?'ott':datum.value==259?'nov':datum.value==281?'dic':datum.value==302?'2018':'feb'","tickSize":4,"tickColor":"#6a7280","domain":false,"grid":false,"labelFontSize":10,"labelColor":"#222222","labelPadding":0,"title":null,"labelOverlap":false,"labelFlush":false,"labelFontWeight":{"condition":{"test":"datum.value==42||datum.value==302","value":"bold"},"value":"normal"}}},
 "y":{"field":"m","type":"quantitative","scale":{"domain":[-0.01805,0.02984],"nice":false,"zero":false},
  "axis":{"orient":"right","values":[-0.01,0.01,0.02],"labelExpr":"datum.value<0?'-0,01':datum.value>0.015?'0,02':'0,01'","tickSize":3,"tickColor":"#6a7280","domain":false,"grid":false,"labelFontSize":10,"labelColor":"#333333","labelPadding":1,"title":null,"labelOverlap":false}},
 "y2":{"field":"s"},
 "color":{"condition":{"test":"datum.m>=datum.s","value":"#5fd65f"},"value":"#e57a7a"}}},
{"mark":{"type":"rule","strokeWidth":1.2},
 "encoding":{"x":{"field":"i","type":"quantitative"},"y":{"field":"d","type":"quantitative"},"y2":{"datum":0},
 "color":{"condition":{"test":"datum.d>=0","value":"#62cc62"},"value":"#ea8282"}}},
{"data":{"values":[{}]},"mark":{"type":"rule","color":"#4050d8","strokeWidth":1},
 "encoding":{"y":{"datum":0}}},
{"mark":{"type":"line","color":"#e05a5a","strokeWidth":1.3,"interpolate":"monotone"},
 "encoding":{"x":{"field":"i","type":"quantitative"},"y":{"field":"s","type":"quantitative"}}},
{"mark":{"type":"line","color":"#3535d6","strokeWidth":1.5,"interpolate":"monotone"},
 "encoding":{"x":{"field":"i","type":"quantitative"},"y":{"field":"m","type":"quantitative"}}},
{"data":{"values":[{}]},"mark":{"type":"rect","fill":"#c5cfdf","stroke":"#8e9bb1","strokeWidth":1},
 "encoding":{"x":{"datum":-2.38},"x2":{"datum":29.15},"y":{"datum":0.02984},"y2":{"datum":0.0240}}},
{"data":{"values":[{}]},"mark":{"type":"rect","fill":"#c5cfdf","stroke":"#8e9bb1","strokeWidth":1},
 "encoding":{"x":{"datum":29.15},"x2":{"datum":49.06},"y":{"datum":0.02984},"y2":{"datum":0.0240}}},
{"data":{"values":[{}]},"mark":{"type":"rect","fill":"#c5cfdf","stroke":"#8e9bb1","strokeWidth":1},
 "encoding":{"x":{"datum":49.06},"x2":{"datum":91.1},"y":{"datum":0.02984},"y2":{"datum":0.0240}}},
{"data":{"values":[{"t":"MACD-signal"}]},"mark":{"type":"text","align":"left","baseline":"middle","fontSize":9,"color":"#3cb83c"},
 "encoding":{"x":{"datum":-1.4},"y":{"datum":0.0269},"text":{"field":"t"}}},
{"data":{"values":[{"t":"Segnale"}]},"mark":{"type":"text","align":"left","baseline":"middle","fontSize":9,"color":"#e06868"},
 "encoding":{"x":{"datum":30.2},"y":{"datum":0.0269},"text":{"field":"t"}}},
{"data":{"values":[{"t":"MACD ( 32 200 9)"}]},"mark":{"type":"text","align":"left","baseline":"middle","fontSize":9,"color":"#2c2cc8"},
 "encoding":{"x":{"datum":50.2},"y":{"datum":0.0269},"text":{"field":"t"}}},
{"data":{"values":[{}]},"mark":{"type":"rect","fill":"#e4e9f7","stroke":"#4a4ad0","strokeWidth":1},
 "encoding":{"x":{"datum":348.8},"x2":{"datum":364.3},"y":{"datum":0.0073},"y2":{"datum":0.0029}}},
{"data":{"values":[{}]},"mark":{"type":"rect","fill":"#dde2ea","stroke":"#8a96a8","strokeWidth":1},
 "encoding":{"x":{"datum":348.8},"x2":{"datum":364.3},"y":{"datum":0.0029},"y2":{"datum":-0.0016}}},
{"data":{"values":[{}]},"mark":{"type":"rect","fill":"#eef0f6","stroke":"#d06060","strokeWidth":1},
 "encoding":{"x":{"datum":348.8},"x2":{"datum":364.3},"y":{"datum":-0.0016},"y2":{"datum":-0.0061}}},
{"data":{"values":[{"t":"0,0005"}]},"mark":{"type":"text","align":"left","baseline":"middle","fontSize":7.5,"color":"#3838cc"},
 "encoding":{"x":{"datum":349.4},"y":{"datum":0.0051},"text":{"field":"t"}}},
{"data":{"values":[{"t":"0,0005"}]},"mark":{"type":"text","align":"left","baseline":"middle","fontSize":7.5,"color":"#3caa3c"},
 "encoding":{"x":{"datum":349.4},"y":{"datum":0.00065},"text":{"field":"t"}}},
{"data":{"values":[{"t":"0,0000"}]},"mark":{"type":"text","align":"left","baseline":"middle","fontSize":7.5,"color":"#d85050"},
 "encoding":{"x":{"datum":349.4},"y":{"datum":-0.00385},"text":{"field":"t"}}}
]
}
]
}
